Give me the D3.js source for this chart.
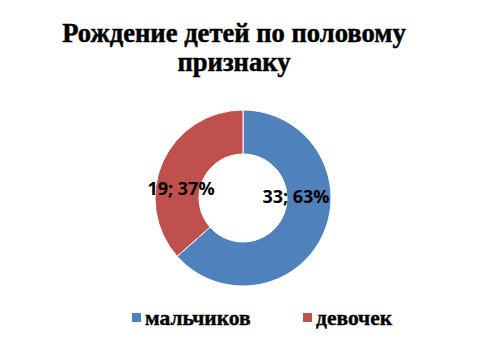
<!DOCTYPE html>
<html><head><meta charset="utf-8">
<script src="https://cdn.jsdelivr.net/npm/d3@7"></script>
<style>body{margin:0;background:#fff}svg{display:block}</style>
</head><body><div id="c"></div>
<script>
const categories = ["мальчиков", "девочек"];
const values = [33, 19];
const percents = ["63%", "37%"];
const colors = ["#4F81BD", "#C0504D"];
const titleLines = ["Рождение детей по половому", "признаку"];

const W = 481, H = 361;
const SERIF = "Liberation Serif";
const svg = d3.select("#c").append("svg").attr("width", W).attr("height", H);

svg.selectAll("text.title").data(titleLines).enter().append("text")
  .attr("x", 234).attr("y", (d, i) => 42 + i * 29)
  .attr("text-anchor", "middle")
  .attr("font-family", SERIF)
  .attr("font-weight", "bold").attr("font-size", 26.6)
  .attr("stroke", "#000").attr("stroke-width", 0.5)
  .text(d => d);

const cx = 243, cy = 198, R = 88, r = 44;
const pie = d3.pie().sort(null).value(d => d.v);
const arcs = pie(categories.map((c, i) => ({c, v: values[i], i})));
const arc = d3.arc().innerRadius(r).outerRadius(R);
const g = svg.append("g").attr("transform", `translate(${cx},${cy})`);
g.selectAll("path").data(arcs).enter().append("path")
  .attr("d", arc).attr("fill", d => colors[d.data.i])
  .attr("stroke", "#fff").attr("stroke-width", 1);

const labelPos = [[53, 0], [-62, -8]];
g.selectAll("text.lab").data(arcs).enter().append("text")
  .attr("x", d => labelPos[d.data.i][0]).attr("y", d => labelPos[d.data.i][1])
  .attr("text-anchor", "middle").attr("dominant-baseline", "middle")
  .attr("font-family", "Open Sans")
  .attr("font-weight", "bold").attr("font-size", 18)
  .text(d => `${d.data.v}; ${percents[d.data.i]}`);

const legX = [132, 303];
const lg = svg.selectAll("g.leg").data(categories).enter().append("g")
  .attr("transform", (d, i) => `translate(${legX[i]},313)`);
lg.append("rect").attr("width", 9).attr("height", 9).attr("fill", (d, i) => colors[i]);
lg.append("text").attr("x", 13).attr("y", 12)
  .attr("font-family", SERIF)
  .attr("font-weight", "bold").attr("font-size", 21.5)
  .attr("stroke", "#000").attr("stroke-width", 0.4)
  .text(d => d);
</script></body></html>
